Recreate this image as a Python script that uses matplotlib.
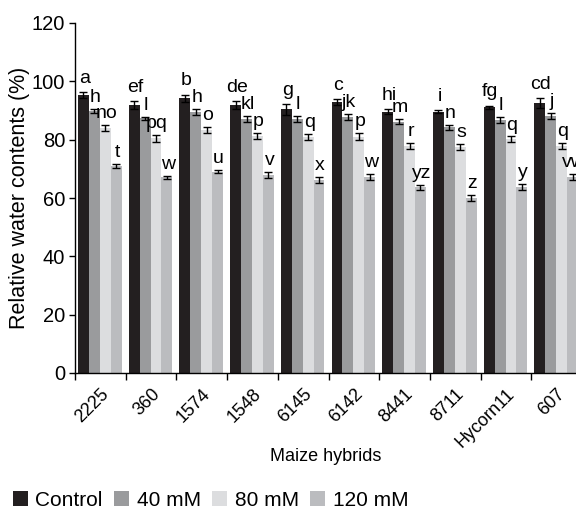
import matplotlib
matplotlib.use("Agg")
import matplotlib.pyplot as plt
import numpy as np

plt.rcParams['font.family'] = ['Liberation Sans', 'DejaVu Sans']
narrow = ['Liberation Sans Narrow', 'Liberation Sans', 'DejaVu Sans']

hybrids = ['2225', '360', '1574', '1548', '6145', '6142', '8441', '8711', 'Hycorn11', '607']
treatments = ['Control', '40 mM', '80 mM', '120 mM']

control = [95.3, 91.9, 94.2, 91.9, 90.4, 92.9, 89.6, 89.6, 91.1, 92.5]
mm40 = [89.9, 87.3, 89.4, 87.0, 87.1, 87.9, 86.2, 84.2, 86.7, 88.1]
mm80 = [83.9, 80.4, 83.3, 81.2, 81.0, 81.0, 77.8, 77.4, 80.1, 77.8]
mm120 = [71.0, 67.1, 69.0, 67.9, 66.2, 67.1, 63.7, 59.9, 63.9, 67.1]

err_control = [0.9, 1.3, 1.2, 1.3, 1.8, 1.1, 0.8, 0.6, 0.6, 1.8]
err_40 = [0.6, 0.6, 1.0, 1.0, 1.0, 1.0, 0.9, 0.9, 1.0, 0.9]
err_80 = [1.1, 1.1, 1.1, 1.1, 1.0, 1.2, 1.0, 1.0, 1.0, 1.0]
err_120 = [0.6, 0.6, 0.6, 1.1, 1.0, 1.0, 0.9, 1.0, 1.0, 1.0]

lab_control = ['a', 'ef', 'b', 'de', 'g', 'c', 'hi', 'i', 'fg', 'cd']
lab_40 = ['h', 'l', 'h', 'kl', 'l', 'jk', 'm', 'n', 'l', 'j']
lab_80 = ['no', 'pq', 'o', 'p', 'q', 'p', 'r', 's', 'q', 'q']
lab_120 = ['t', 'w', 'u', 'v', 'x', 'w', 'yz', 'z', 'y', 'vw']

colors = ['#231f20', '#9a9b9d', '#dcdddf', '#bbbcbf']

series = [control, mm40, mm80, mm120]
errors = [err_control, err_40, err_80, err_120]
letters = [lab_control, lab_40, lab_80, lab_120]

fig = plt.figure(figsize=(5.76, 5.09), dpi=100)
ax = fig.add_axes([75 / 576, 136 / 509, 501 / 576, 350 / 509])

x = np.arange(len(hybrids))
w = 0.215

for k in range(4):
    xs = x + (k - 1.5) * w - 0.01
    ax.bar(xs, series[k], width=w, color=colors[k], label=treatments[k], zorder=2)
    ax.errorbar(xs, series[k], yerr=errors[k], fmt='none', ecolor='black',
                elinewidth=1, capsize=3, capthick=1, zorder=3)
    # control letters sit a bit higher in the original
    off = 1.8 if k == 0 else 1.0
    for xi, v, e, t in zip(xs, series[k], errors[k], letters[k]):
        ax.text(xi + 0.02, v + e + off, t, ha='center', va='bottom',
                fontsize=14, family=narrow)

ax.set_ylim(0, 120)
ax.set_xlim(-0.5, 9.38)
ax.set_yticks(np.arange(0, 121, 20))
ax.set_xticks(x - 0.5)
ax.set_xticklabels([])
ax.set_xticks(x, minor=True)
ax.set_xticklabels(hybrids, minor=True, rotation=45, ha='right',
                   rotation_mode='anchor', fontsize=13)
ax.tick_params(axis='x', which='minor', length=0, pad=9)
ax.tick_params(axis='x', which='major', length=5, width=1)
ax.tick_params(axis='y', length=4, width=1, pad=3)
for lbl in ax.get_yticklabels():
    lbl.set_fontfamily(narrow)
    lbl.set_fontsize(14.5)

for s in ['top', 'right']:
    ax.spines[s].set_visible(False)
for s in ['left', 'bottom']:
    ax.spines[s].set_linewidth(1)

ax.set_ylabel('Relative water contents (%)', fontsize=15.5)
ax.yaxis.set_label_coords(-0.09, 0.5)
ax.set_xlabel('Maize hybrids', fontsize=13)
ax.xaxis.set_label_coords(0.5, -0.214)

fig.legend(loc='lower left', bbox_to_anchor=(0.022, -0.002), ncol=4, frameon=False,
           fontsize=15, handlelength=0.72, handleheight=0.72, handletextpad=0.36,
           columnspacing=0.55, borderpad=0, borderaxespad=0)

fig.savefig('out.png', dpi=100)
